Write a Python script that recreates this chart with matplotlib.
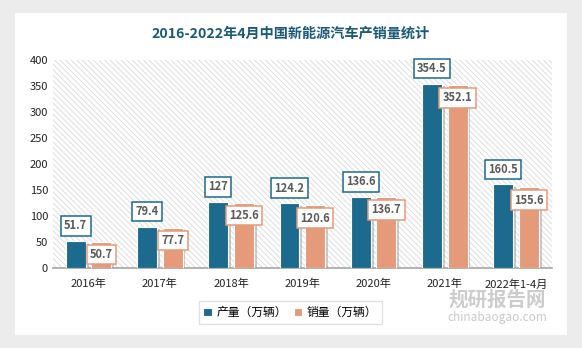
import matplotlib.pyplot as plt
import matplotlib.patheffects as pe
from matplotlib.patches import Rectangle
import numpy as np

plt.rcParams['font.family'] = ['Noto Sans CJK SC', 'DejaVu Sans']
plt.rcParams['hatch.linewidth'] = 0.6
plt.rcParams['hatch.color'] = '#dadada'

years = ['2016年', '2017年', '2018年', '2019年', '2020年', '2021年', '2022年1-4月']
production = [51.7, 79.4, 127, 124.2, 136.6, 354.5, 160.5]
sales = [50.7, 77.7, 125.6, 120.6, 136.7, 352.1, 155.6]
prod_labels = ['51.7', '79.4', '127', '124.2', '136.6', '354.5', '160.5']
sales_labels = ['50.7', '77.7', '125.6', '120.6', '136.7', '352.1', '155.6']

c_prod = '#1c6a8d'
c_sale = '#e59a7a'

fig = plt.figure(figsize=(5.82, 3.48), dpi=100, facecolor='#ececec')
# white card
fig.patches.append(Rectangle((15/582, 1-335/348), 552/582, 322/348,
                             transform=fig.transFigure, facecolor='white',
                             edgecolor='none', zorder=-5))

ax = fig.add_axes([0.091, 0.230, 0.857, 0.598])
ax.set_facecolor('none')
ax.add_patch(Rectangle((0, 0), 1, 1, transform=ax.transAxes, facecolor='white',
                       edgecolor='#dadada', hatch='\\' * 6, linewidth=0, zorder=0))

x = np.arange(len(years))
w = 0.28
shadow = [pe.SimplePatchShadow(offset=(2, -2), shadow_rgbFace='#999999', alpha=0.5), pe.Normal()]
b1 = ax.bar(x - 0.18, production, w, color=c_prod, edgecolor='white', linewidth=0.8,
            label='产量（万辆）', zorder=3)
b2 = ax.bar(x + 0.18, sales, w, color=c_sale, edgecolor='white', linewidth=0.8,
            label='销量（万辆）', zorder=3)
for b in list(b1) + list(b2):
    b.set_path_effects(shadow)

for i in range(len(years)):
    ax.text(x[i] - 0.18, production[i] + 29, prod_labels[i], ha='center', va='center',
            fontsize=8, fontweight='bold', color='#595959', zorder=5,
            bbox=dict(boxstyle='square,pad=0.3', facecolor='white', edgecolor=c_prod, linewidth=1.1))
    ax.text(x[i] + 0.18, sales[i] - 25, sales_labels[i], ha='center', va='center',
            fontsize=8, fontweight='bold', color='#595959', zorder=6,
            bbox=dict(boxstyle='square,pad=0.3', facecolor='white', edgecolor=c_sale, linewidth=1.1))

ax.set_xlim(-0.5, 6.5)
ax.set_ylim(0, 400)
ax.set_yticks(range(0, 401, 50))
ax.set_xticks(x)
ax.set_xticklabels(years)
ax.tick_params(axis='both', length=0, labelsize=8, colors='#222222')
ax.tick_params(axis='x', pad=8)
for s in ['top', 'right', 'left']:
    ax.spines[s].set_visible(False)
ax.spines['bottom'].set_color('#a6a6a6')
ax.spines['bottom'].set_linewidth(1.2)

fig.text(0.5, 0.905, '2016-2022年4月中国新能源汽车产销量统计', ha='center', va='center',
         fontsize=10.2, fontweight='bold', color='#1a5a78')

leg = fig.legend(handles=[b1, b2], loc='center', bbox_to_anchor=(0.499, 0.102),
                 ncol=2, fontsize=8.5, frameon=True, fancybox=False, edgecolor='#d9d9d9',
                 handlelength=0.7, handleheight=0.7, handletextpad=0.4, columnspacing=0.6,
                 borderpad=0.4)
for h in leg.legend_handles:
    h.set_path_effects([])

# watermark
fig.text(0.855, 0.137, '规研报告网', ha='center', va='center', fontsize=14, fontweight='bold',
         color='#c4c4c4', alpha=0.85, zorder=10)
fig.text(0.855, 0.088, 'chinabaogao.com', ha='center', va='center', fontsize=8.5,
         color='#c4c4c4', alpha=0.9, zorder=10)

fig.savefig('out.png', dpi=100, facecolor=fig.get_facecolor())
